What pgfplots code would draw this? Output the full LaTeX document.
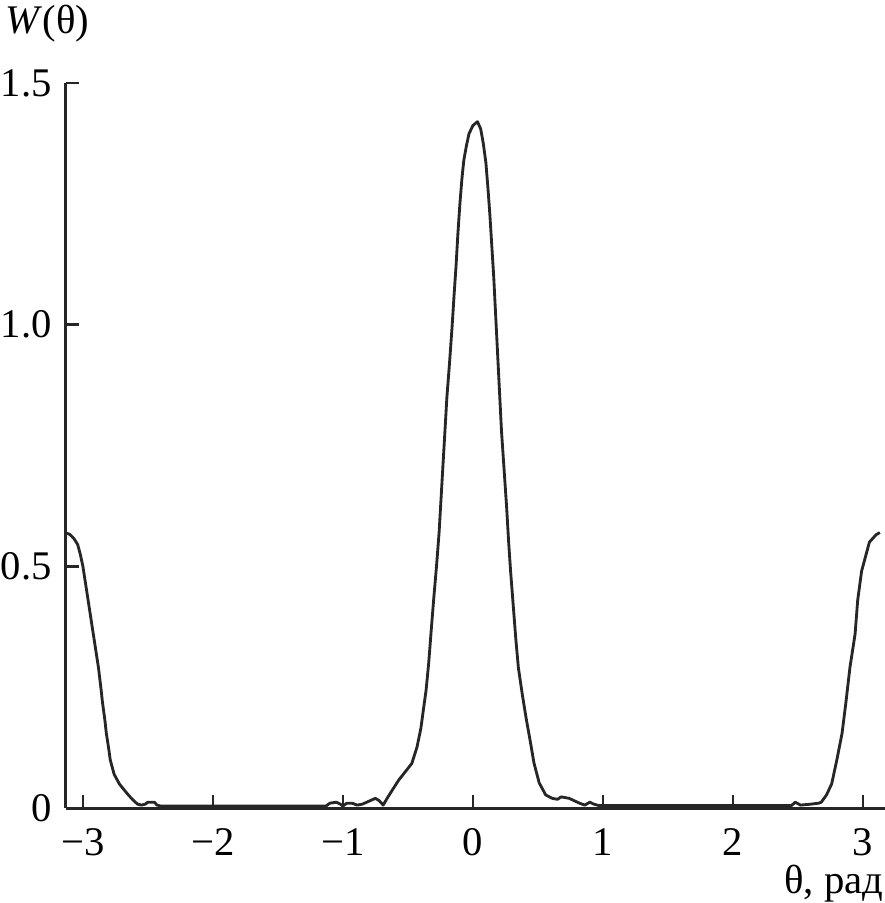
\documentclass[border=0pt]{standalone}
\usepackage{fontspec}
\setmainfont{Liberation Serif}
\usepackage{pgfplots}
\pgfplotsset{compat=1.18}
\begin{document}
\fontsize{12.2}{14}\selectfont
\begin{tikzpicture}
\begin{axis}[
 scale only axis, width=245.7pt, height=217.5pt,
 xmin=-3.13, xmax=3.17, ymin=0, ymax=1.5,
 axis x line=bottom, axis y line=left,
 axis line style={-, line width=0.9pt, black!85},
 tick align=inside, major tick length=4pt,
 tick style={line width=0.8pt, black!85},
 xtick={-3,-2,-1,0,1,2,3}, xticklabels={−3,−2,−1,0,1,2,3},
 ytick={0,0.5,1,1.5}, yticklabels={0,0.5,1.0,1.5},
 tick label style={font=\fontsize{12.2}{14}\selectfont},
 xticklabel style={inner sep=1pt, yshift=-5.0pt},
 clip=false,
]
\addplot[line width=0.85pt, color=black!85, line join=round] coordinates {
(-3.13,0.569) (-3.10,0.566) (-3.07,0.558) (-3.04,0.545) (-3.02,0.525) (-3.00,0.500)
(-2.98,0.465) (-2.96,0.430) (-2.94,0.395) (-2.92,0.360) (-2.90,0.325) (-2.88,0.290)
(-2.86,0.245) (-2.85,0.220) (-2.83,0.180) (-2.82,0.155) (-2.80,0.120) (-2.79,0.100)
(-2.76,0.070) (-2.72,0.050) (-2.66,0.030) (-2.62,0.018) (-2.58,0.008) (-2.55,0.006)
(-2.52,0.008) (-2.50,0.012) (-2.45,0.012) (-2.43,0.006) (-2.40,0.004) (-2.00,0.004)
(-1.50,0.004) (-1.13,0.004) (-1.10,0.010) (-1.05,0.012) (-1.02,0.008) (-1.00,0.004)
(-0.97,0.010) (-0.93,0.010) (-0.89,0.006) (-0.85,0.008) (-0.80,0.014) (-0.75,0.020)
(-0.72,0.015) (-0.69,0.006) (-0.66,0.020) (-0.62,0.037) (-0.57,0.058) (-0.52,0.075)
(-0.47,0.092) (-0.43,0.126) (-0.40,0.165) (-0.38,0.205) (-0.36,0.244) (-0.34,0.300)
(-0.32,0.370) (-0.30,0.437) (-0.28,0.500) (-0.26,0.570) (-0.245,0.640) (-0.23,0.710)
(-0.215,0.780) (-0.20,0.850) (-0.18,0.920) (-0.16,0.996) (-0.145,1.060) (-0.13,1.120)
(-0.115,1.190) (-0.10,1.250) (-0.085,1.300) (-0.07,1.340) (-0.05,1.370) (-0.03,1.395)
(0.00,1.412) (0.035,1.420) (0.06,1.405) (0.08,1.375) (0.10,1.335) (0.115,1.285)
(0.13,1.230) (0.145,1.165) (0.16,1.100) (0.175,1.020) (0.19,0.940) (0.205,0.860)
(0.22,0.780) (0.24,0.700) (0.26,0.620) (0.275,0.550) (0.29,0.490) (0.31,0.420)
(0.33,0.350) (0.35,0.290) (0.38,0.235) (0.41,0.185) (0.44,0.140) (0.47,0.093)
(0.51,0.052) (0.56,0.027) (0.61,0.020) (0.65,0.018) (0.68,0.023) (0.74,0.020)
(0.82,0.010) (0.86,0.006) (0.90,0.012) (0.93,0.008) (0.97,0.005) (1.50,0.005)
(2.00,0.005) (2.45,0.005) (2.48,0.012) (2.52,0.006) (2.60,0.008) (2.66,0.010)
(2.68,0.012) (2.72,0.027) (2.76,0.050) (2.80,0.100) (2.84,0.155) (2.87,0.220)
(2.90,0.290) (2.94,0.360) (2.96,0.430) (2.99,0.490) (3.02,0.520) (3.05,0.550)
(3.10,0.565) (3.13,0.570)
};
\node[anchor=base west, inner sep=0pt] at (axis description cs:-0.0745,1.0676) {\textit{W}(θ)};
\node[anchor=base east, inner sep=0pt] at (axis description cs:0.9988,-0.1175) {θ, рад};
\end{axis}
\pgfresetboundingbox
\path[use as bounding box] ([shift={(-19.8pt,-28.5pt)}]current axis.south west) rectangle ([shift={(245.7pt,242.4pt)}]current axis.south west);
\end{tikzpicture}
\end{document}
